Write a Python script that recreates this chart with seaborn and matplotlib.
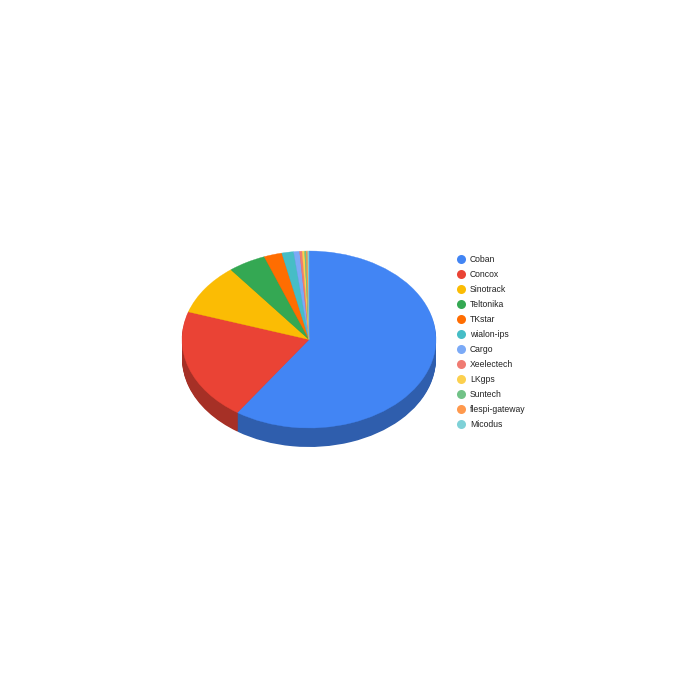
import numpy as np
import seaborn as sns
import matplotlib.pyplot as plt
from matplotlib.lines import Line2D

# chart data
labels = ["Coban", "Concox", "Sinotrack", "Teltonika", "TKstar", "wialon-ips",
          "Cargo", "Xeelectech", "LKgps", "Suntech", "flespi-gateway", "Micodus"]
shares = [59.5, 20.5, 9.4, 4.8, 2.3, 1.5, 0.75, 0.33, 0.3, 0.2, 0.2, 0.15]
hex_colors = ["#4285F4", "#EA4335", "#FBBC04", "#34A853", "#FF6D01", "#46BDC6",
              "#7BAAF7", "#F07B72", "#FCD04F", "#71C287", "#FF994D", "#7ED1D7"]

sns.set_theme(style="white")
plt.rcParams["font.family"] = ["Liberation Sans", "DejaVu Sans"]

palette = sns.color_palette(hex_colors)
dark = [tuple(c * 0.71 for c in col) for col in palette]

# pie geometry in pixels of the 700x700 figure
cx, cy = 309, 339.5
rx, ry = 127, 88.5
depth = 19 / ry

fig = plt.figure(figsize=(7, 7), dpi=100)
ax = fig.add_axes([0, 0, 1, 1])

# side wall: stack of darker pies, then the top face
for off in np.linspace(depth, 0.01, 24):
    ax.pie(shares, colors=dark, startangle=90, counterclock=False,
           center=(0, -off), wedgeprops={"linewidth": 0.3, "edgecolor": "none"})

wedges, _ = ax.pie(shares, colors=palette, startangle=90, counterclock=False)
for w, col in zip(wedges, palette):
    w.set_edgecolor(col)
    w.set_linewidth(0.25)

# squash the pie into an ellipse
ax.set_aspect("auto")
ax.set_xlim(-cx / rx, (700 - cx) / rx)
ax.set_ylim((cy - 700) / ry, cy / ry)
ax.axis("off")

handles = [Line2D([], [], linestyle="none", marker="o", markersize=6.5,
                  markerfacecolor=c, markeredgecolor="none") for c in palette]
ax.legend(handles, labels, loc="upper left",
          bbox_to_anchor=(454 / 700, 1 - 255 / 700),
          frameon=False, fontsize=6.2, labelspacing=0.70, handletextpad=0.23,
          handlelength=1.6, borderaxespad=0, borderpad=0, labelcolor="#222222")

fig.savefig("out.png", dpi=100, facecolor="white")
